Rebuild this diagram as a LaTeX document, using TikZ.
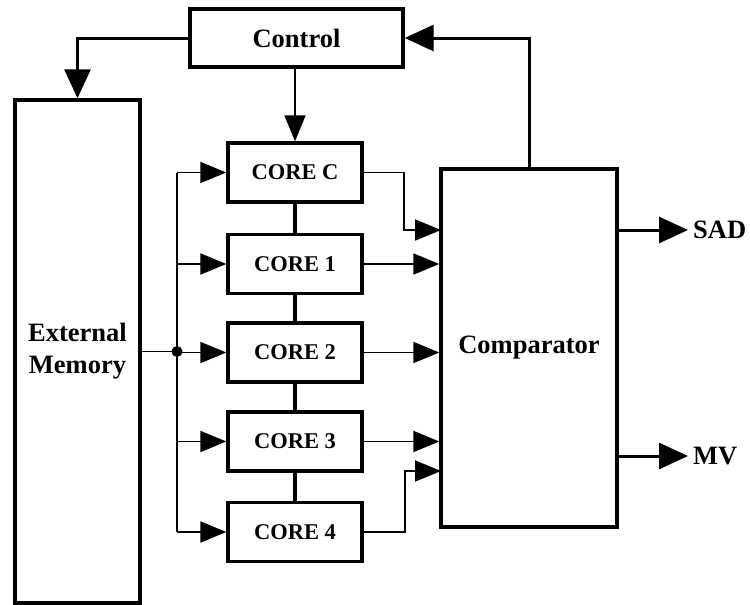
\documentclass[tikz,border=0pt]{standalone}
\usepackage{fontspec}
\setmainfont{Liberation Serif}
\usetikzlibrary{arrows.meta}
\begin{document}
\begin{tikzpicture}[x=1pt,y=-1pt,
  box/.style={draw, line width=3.4pt, inner sep=0pt, align=center,
    font=\bfseries\fontsize{26.5}{32}\selectfont},
  corebox/.style={box, minimum width=134pt, minimum height=59pt,
    font=\bfseries\fontsize{22.5}{27}\selectfont},
  thinline/.style={line width=1.9pt},
  wideline/.style={line width=3pt},
  linkline/.style={line width=3.2pt},
  tip/.style={-{Triangle[length=26pt,width=21pt]}},
  bigtip/.style={-{Triangle[length=29pt,width=26pt]}},
  lbl/.style={font=\bfseries\fontsize{26.5}{32}\selectfont, inner xsep=5pt, inner ysep=0pt}
]
\useasboundingbox (0,0) rectangle (750,605);

% blocks
\node[box, minimum width=213pt, minimum height=58pt] (ctrl) at (296.5,38) {Control};
\node[box, minimum width=125pt, minimum height=503pt] (ext) at (77.5,351.5) {External\\Memory};
\node[corebox] (cc) at (295,172.5) {CORE C};
\node[corebox] (c1) at (295,264) {CORE 1};
\node[corebox] (c2) at (295,352.5) {CORE 2};
\node[corebox] (c3) at (295,441.5) {CORE 3};
\node[corebox] (c4) at (295,532) {CORE 4};
\node[box, minimum width=176pt, minimum height=358pt] (cmp) at (529,348) {Comparator};

% output labels
\node[lbl, anchor=west] (sad) at (688,230) {SAD};
\node[lbl, anchor=west] (mv) at (688,456) {MV};

% helper points
\coordinate (j) at (177,351.5);
\coordinate (inC) at (441,230);
\coordinate (in4) at (441,471);

% memory feeds the core bus
\draw[thinline] (ext.east) -- (j);
\fill (j) circle (5.5pt);
\draw[thinline] (j |- cc) -- (j |- c4);
\foreach \c in {cc,c1,c2,c3,c4}
  \draw[thinline,tip] (j |- \c) -- (\c.west);

% chain between the cores
\draw[linkline] (cc) -- (c1) (c1) -- (c2) (c2) -- (c3) (c3) -- (c4);

% cores into the comparator
\draw[thinline,tip] (cc.east) -- ++(40,0) |- (inC);
\foreach \c in {c1,c2,c3}
  \draw[thinline,tip] (\c.east) -- (\c.east -| cmp.west);
\draw[thinline,tip] (c4.east) -- ++(41,0) |- (in4);

% control paths
\draw[wideline,bigtip] (ctrl.west) -| (ext.north);
\draw[thinline,tip] (cc.north |- ctrl.south) -- (cc.north);
\draw[wideline,bigtip] (cmp.north) |- (ctrl.east);

% comparator outputs
\draw[wideline,bigtip] (cmp.east |- sad.west) -- (sad.west);
\draw[wideline,bigtip] (cmp.east |- mv.west) -- (mv.west);
\end{tikzpicture}
\end{document}
